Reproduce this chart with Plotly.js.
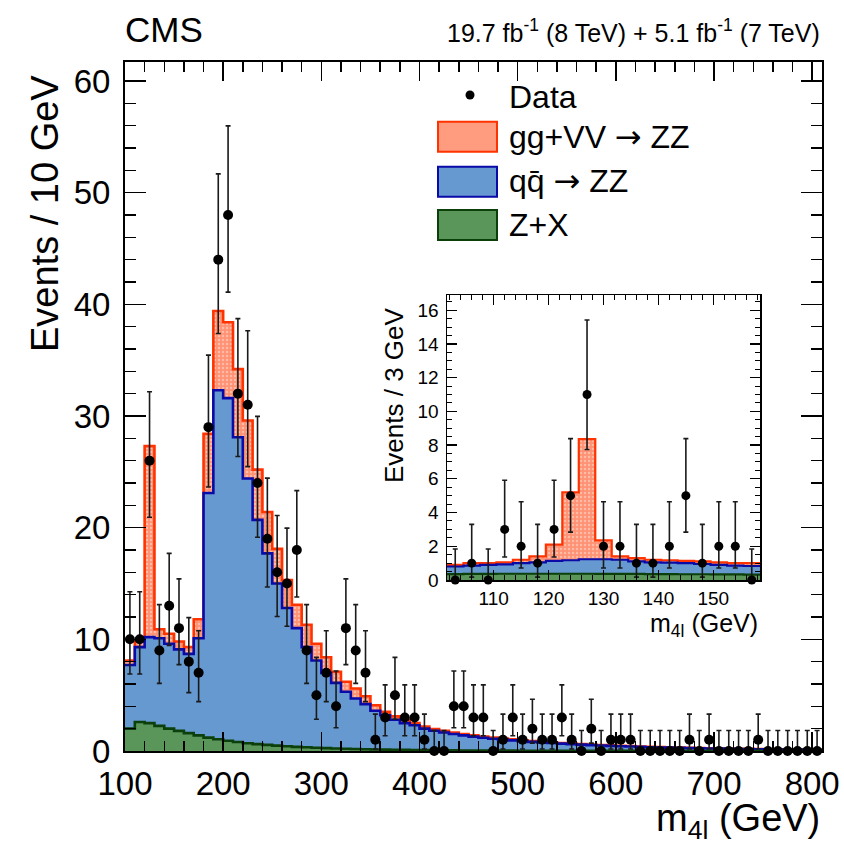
<!DOCTYPE html>
<html>
<head>
<meta charset="utf-8">
<script src="https://cdn.plot.ly/plotly-3.0.1.min.js"></script>
<style>html,body{margin:0;padding:0;background:#fff;}#chart{width:844px;height:847px;}</style>
</head>
<body>
<div id="chart"></div>
<script>
// ---------------- DATA ----------------
// main plot: 10 GeV bins, centres in GeV
const massCenters = [105,115,125,135,145,155,165,175,185,195,205,215,225,235,245,255,265,275,285,295,
  305,315,325,335,345,355,365,375,385,395,405,415,425,435,445,455,465,475,485,495,
  505,515,525,535,545,555,565,575,585,595,605,615,625,635,645,655,665,675,685,695,
  705,715,725,735,745,755,765,775,785,795,805];
const dataCounts = [10,10,26,9,13,11,8,7,29,44, 48,32,31,24,19,16,15,18,9,5,
  7,4,11,9,7,1,3,5,3,3, 1,0,0,4,4,3,3,0,1,3,
  1,2,1,1,3,1,0,2,0,1, 1,1,0,0,0,0,0,1,0,1,
  0,0,0,0,1,0,0,0,0,0,0];
const zxYield = [2.0,2.6,2.5,2.25,2.0,1.8,1.6,1.4,1.2,1.05, 0.92,0.8,0.7,0.62,0.55,0.48,0.42,0.37,0.33,0.29,
  0.26,0.23,0.2,0.18,0.16,0.14,0.12,0.11,0.1,0.09, 0.08,0.07,0.06,0.055,0.05,0.045,0.04,0.035,0.03,0.03,
  0.025,0.02,0.02,0.02,0.015,0.015,0.01,0.01,0.01,0.01, 0.01,0.01,0.008,0.008,0.007,0.007,0.006,0.006,0.005,0.005,
  0.005,0.004,0.004,0.004,0.003,0.003,0.003,0.003,0.002,0.002,0.002];
const qqzzYield = [5.7,6.7,7.7,7.85,7.6,7.3,7.1,8.7,21.9,31.25, 30.68,27.3,23.7,20.08,17.15,14.52,12.38,10.63,8.97,7.81,
  6.74,5.87,5.1,4.52,4.04,3.46,3.08,2.69,2.4,2.21, 1.92,1.75,1.6,1.465,1.35,1.245,1.15,1.065,0.99,0.92,
  0.855,0.8,0.74,0.69,0.645,0.595,0.56,0.52,0.48,0.45, 0.42,0.39,0.362,0.332,0.313,0.293,0.274,0.254,0.235,0.215,
  0.205,0.186,0.176,0.166,0.157,0.147,0.137,0.127,0.118,0.108,0.098];
const ggvvYield = [0.4,0.5,17.1,0.8,0.9,0.7,0.6,1.7,5.3,7.1, 6.8,6.1,5.2,4.5,3.7,3.1,2.5,2.1,2.0,1.5,
  1.4,1.0,0.9,0.9,0.7,0.5,0.3,0.3,0.3,0.2, 0.2,0.15,0.14,0.13,0.12,0.11,0.1,0.1,0.09,0.09,
  0.08,0.08,0.07,0.07,0.06,0.06,0.05,0.05,0.05,0.04, 0.04,0.04,0.035,0.035,0.03,0.03,0.03,0.025,0.025,0.025,
  0.02,0.02,0.02,0.02,0.018,0.016,0.015,0.014,0.013,0.012,0.011];

// inset: 3 GeV bins
const insetCenters = [103,106,109,112,115,118,121,124,127,130,133,136,139,142,145,148,151,154,157];
const insetData = [0,1,0,3,2,1,3,5,11,2,2,1,1,2,5,1,2,2,0];
const insetZX = [0.35,0.36,0.36,0.37,0.37,0.37,0.37,0.37,0.37,0.36,0.36,0.36,0.35,0.35,0.34,0.34,0.33,0.33,0.32];
const insetQQ = [0.45,0.49,0.54,0.56,0.63,0.68,0.76,0.8,0.86,0.87,0.84,0.74,0.7,0.68,0.66,0.61,0.57,0.52,0.51];
const insetGG = [0.1,0.15,0.1,0.12,0.2,0.35,0.97,4.03,7.12,1.12,0.2,0.2,0.15,0.14,0.13,0.15,0.15,0.15,0.17];

const xTickVals = [100,200,300,400,500,600,700,800];
const ARROW = '<span style="font-family:DejaVu Sans">\u2192</span>';
const legendLabels = ['Data','gg+VV ' + ARROW + ' ZZ','q' + 'q\u0304' + ' ' + ARROW + ' ZZ','Z+X'];

// ---------------- HELPERS ----------------
function lnGamma(z){
  const g=7, c=[0.99999999999980993,676.5203681218851,-1259.1392167224028,771.32342877765313,
    -176.61502916214059,12.507343278686905,-0.13857109526572012,9.9843695780195716e-6,1.5056327351493116e-7];
  if(z<0.5) return Math.log(Math.PI/Math.sin(Math.PI*z)) - lnGamma(1-z);
  z-=1; let x=c[0]; for(let i=1;i<g+2;i++) x+=c[i]/(z+i);
  const t=z+g+0.5; return 0.5*Math.log(2*Math.PI)+(z+0.5)*Math.log(t)-t+Math.log(x);
}
function gammaP(a,x){
  if(x<=0) return 0;
  const gln=lnGamma(a);
  if(x<a+1){
    let ap=a, sum=1/a, del=sum;
    for(let n=0;n<500;n++){ap+=1; del*=x/ap; sum+=del; if(Math.abs(del)<Math.abs(sum)*1e-12) break;}
    return sum*Math.exp(-x+a*Math.log(x)-gln);
  }
  let b=x+1-a, c=1e300, d=1/b, h=d;
  for(let i=1;i<500;i++){
    const an=-i*(i-a); b+=2; d=an*d+b; if(Math.abs(d)<1e-300) d=1e-300;
    c=b+an/c; if(Math.abs(c)<1e-300) c=1e-300; d=1/d; const del=d*c; h*=del;
    if(Math.abs(del-1)<1e-12) break;
  }
  return 1-Math.exp(-x+a*Math.log(x)-gln)*h;
}
function gammaPinv(a,p){
  let lo=0, hi=a+60;
  for(let i=0;i<100;i++){const m=(lo+hi)/2; if(gammaP(a,m)<p) lo=m; else hi=m;}
  return (lo+hi)/2;
}
const ALPHA2 = 0.158655;
function errUp(n){return gammaPinv(n+1,1-ALPHA2)-n;}
function errDn(n){return n===0?0:n-gammaPinv(n,ALPHA2);}

function cumsum(arrs){
  return arrs[0].map((_,i)=>arrs.reduce((s,a)=>s+a[i],0));
}
function steps(centers, vals){
  const w = centers[1]-centers[0];
  const x = centers.map(c=>c-w/2); x.push(centers[centers.length-1]+w/2);
  const y = vals.slice(); y.push(vals[vals.length-1]);
  return {x,y};
}

// ---------------- STYLE ----------------
const FONT = 'Liberation Sans, Arial, Helvetica, sans-serif';
const RED_LINE='#ff3300', RED_BG='#ff9274', RED_FG='#ffbba5';
const BLUE_LINE='#0a0aa8', BLUE_FILL='#6699cf';
const GREEN_LINE='#0b400b', GREEN_FILL='#5a955a';

function histTraces(centers, zx, qq, gg, xa, ya, lw){
  const tot = cumsum([zx,qq,gg]);
  const zq = cumsum([zx,qq]);
  const sT=steps(centers,tot), sB=steps(centers,zq), sG=steps(centers,zx);
  return [
    {x:sT.x,y:sT.y,xaxis:xa,yaxis:ya,type:'scatter',mode:'lines',line:{shape:'hv',color:RED_LINE,width:lw},
      fill:'tozeroy',fillcolor:RED_BG,fillpattern:{shape:'.',bgcolor:RED_BG,fgcolor:RED_FG,size:4,solidity:0.3},hoverinfo:'skip',showlegend:false},
    {x:sB.x,y:sB.y,xaxis:xa,yaxis:ya,type:'scatter',mode:'lines',line:{shape:'hv',color:BLUE_LINE,width:lw},
      fill:'tozeroy',fillcolor:BLUE_FILL,hoverinfo:'skip',showlegend:false},
    {x:sG.x,y:sG.y,xaxis:xa,yaxis:ya,type:'scatter',mode:'lines',line:{shape:'hv',color:GREEN_LINE,width:lw},
      fill:'tozeroy',fillcolor:GREEN_FILL,hoverinfo:'skip',showlegend:false}
  ];
}
function dataTrace(centers, counts, xa, ya, msize){
  return {x:centers,y:counts,xaxis:xa,yaxis:ya,type:'scatter',mode:'markers',cliponaxis:false,
    marker:{color:'#000',size:msize},
    error_y:{type:'data',symmetric:false,array:counts.map(errUp),arrayminus:counts.map(errDn),
      color:'#1a1a1a',thickness:1.6,width:2.5},
    hoverinfo:'skip',showlegend:false};
}

const traces = [
  ...histTraces(massCenters, zxYield, qqzzYield, ggvvYield, 'x', 'y', 2.6),
  dataTrace(massCenters, dataCounts, 'x', 'y', 10),
  ...histTraces(insetCenters, insetZX, insetQQ, insetGG, 'x2', 'y2', 2.2),
  dataTrace(insetCenters, insetData, 'x2', 'y2', 9)
];

// geometry (plot area): left 125, right 822, top 62, bottom 751
const L=125, R=822, T=62, B=751;
const W=R-L, H=B-T;
const px=v=>(v-L)/W, py=v=>(B-v)/H;

const axCommon = {showgrid:false,zeroline:false,showline:true,linecolor:'#000',linewidth:2,mirror:'allticks',
  ticks:'inside',tickcolor:'#000'};

const layout = {
  width:844,height:847,
  margin:{l:L,r:844-R,t:T,b:847-B,pad:0},
  paper_bgcolor:'#fff',plot_bgcolor:'#fff',
  font:{family:FONT,color:'#000'},
  showlegend:false,
  xaxis:Object.assign({},axCommon,{range:[100,810],tickvals:xTickVals,ticklen:19,tickwidth:1.5,
    minor:{dtick:20,tick0:0,ticklen:10,tickwidth:1.5,ticks:'inside',tickcolor:'#000'},
    tickfont:{size:33,family:FONT},ticklabelstandoff:2}),
  yaxis:Object.assign({},axCommon,{range:[0,61.7],dtick:10,ticklen:21,tickwidth:1.5,
    minor:{dtick:2,ticklen:11,tickwidth:1.5,ticks:'inside',tickcolor:'#000'},
    tickfont:{size:33,family:FONT},ticklabelstandoff:6}),
  xaxis2:Object.assign({},axCommon,{anchor:'y2',domain:[px(447),px(760)],range:[101.5,158.5],dtick:10,tick0:100,
    ticklen:10,tickwidth:1.2,linewidth:1.5,
    minor:{dtick:2,ticklen:5,tickwidth:1,ticks:'inside',tickcolor:'#000'},
    tickfont:{size:19,family:FONT},ticklabelstandoff:1}),
  yaxis2:Object.assign({},axCommon,{anchor:'x2',domain:[py(580),py(295)],range:[0,16.9],dtick:2,
    ticklen:10,tickwidth:1.2,linewidth:1.5,
    minor:{dtick:0.5,ticklen:5,tickwidth:1,ticks:'inside',tickcolor:'#000'},
    tickfont:{size:19,family:FONT},ticklabelstandoff:3}),
  shapes:[
    {type:'rect',xref:'paper',yref:'paper',x0:px(438),x1:px(497),y0:py(151.7),y1:py(121.7),
      fillcolor:'#ff9c80',line:{color:RED_LINE,width:2}},
    {type:'rect',xref:'paper',yref:'paper',x0:px(438),x1:px(497),y0:py(196.7),y1:py(166.7),
      fillcolor:BLUE_FILL,line:{color:BLUE_LINE,width:2}},
    {type:'rect',xref:'paper',yref:'paper',x0:px(438),x1:px(497),y0:py(240),y1:py(210),
      fillcolor:GREEN_FILL,line:{color:GREEN_LINE,width:2}},
    {type:'circle',xref:'paper',yref:'paper',x0:px(465.5),x1:px(474.5),y0:py(99.5),y1:py(90.5),
      fillcolor:'#000',line:{color:'#000',width:0}}
  ],
  annotations:[
    {text:'CMS',xref:'paper',yref:'paper',x:-0.003,y:py(30),xanchor:'left',yanchor:'middle',showarrow:false,
      font:{size:35,family:FONT}},
    {text:'19.7 fb<sup>-1</sup> (8 TeV) + 5.1 fb<sup>-1</sup> (7 TeV)',xref:'paper',yref:'paper',x:1,y:py(31),
      xanchor:'right',yanchor:'middle',showarrow:false,font:{size:25,family:FONT}},
    {text:'Events / 10 GeV',xref:'paper',yref:'paper',x:px(45),y:py(214),xanchor:'center',yanchor:'middle',
      textangle:-90,showarrow:false,font:{size:38,family:FONT}},
    {text:'m<sub>4l</sub> (GeV)',xref:'paper',yref:'paper',x:1,y:py(821),xanchor:'right',yanchor:'middle',
      showarrow:false,font:{size:38,family:FONT}},
    {text:'Events / 3 GeV',xref:'paper',yref:'paper',x:px(394),y:py(395),xanchor:'center',yanchor:'middle',
      textangle:-90,showarrow:false,font:{size:26,family:FONT}},
    {text:'m<sub>4l</sub> (GeV)',xref:'paper',yref:'paper',x:px(760),y:py(625),xanchor:'right',yanchor:'middle',
      showarrow:false,font:{size:25,family:FONT}},
    {text:legendLabels[0],xref:'paper',yref:'paper',x:px(507),y:py(97),xanchor:'left',yanchor:'middle',showarrow:false,font:{size:32,family:FONT}},
    {text:legendLabels[1],xref:'paper',yref:'paper',x:px(507),y:py(137),xanchor:'left',yanchor:'middle',showarrow:false,font:{size:32,family:FONT}},
    {text:legendLabels[2],xref:'paper',yref:'paper',x:px(507),y:py(181),xanchor:'left',yanchor:'middle',showarrow:false,font:{size:32,family:FONT}},
    {text:legendLabels[3],xref:'paper',yref:'paper',x:px(507),y:py(225),xanchor:'left',yanchor:'middle',showarrow:false,font:{size:32,family:FONT}}
  ]
};

Plotly.newPlot('chart', traces, layout, {staticPlot:true, displayModeBar:false});
</script>
</body>
</html>
